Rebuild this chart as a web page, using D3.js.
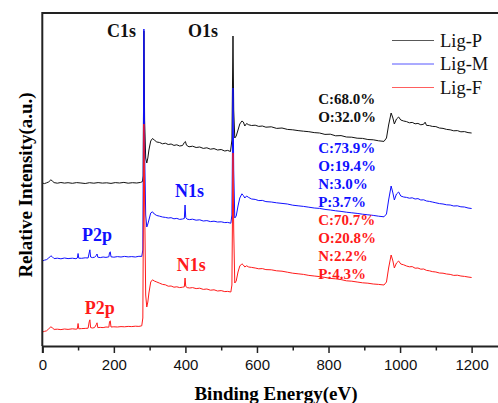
<!DOCTYPE html>
<html>
<head>
<meta charset="utf-8">
<script src="https://cdn.jsdelivr.net/npm/d3@7"></script>
<style>
  html, body { margin: 0; padding: 0; background: #fff; overflow: hidden; }
  svg { display: block; }
</style>
</head>
<body>
<div id="chart"></div>
<script>
// XPS survey spectra, [binding energy (eV), intensity (a.u.)]
const ligP = [[0,1630],[6,1624],[12,1632],[18,1641],[24,1662],[28,1650],[33,1634],[42,1628],[52,1635],[62,1629],[72,1633],[84,1627],[96,1634],[108,1630],[120,1625],[132,1633],[144,1628],[156,1634],[168,1629],[180,1632],[192,1626],[204,1634],[216,1630],[228,1636],[240,1628],[252,1633],[264,1630],[275,1636],[280,1645],[282,1700],[284,3150],[286,2260],[289,1880],[292,1830],[295,1880],[298,1960],[303,2050],[308,2075],[313,2060],[320,2040],[328,2035],[336,2022],[344,2028],[352,2015],[360,2020],[368,2006],[376,2012],[384,2000],[392,2005],[397,2035],[400,2045],[403,2008],[410,1992],[420,1998],[430,1985],[440,1990],[450,1976],[460,1982],[470,1968],[480,1974],[490,1960],[500,1965],[510,1950],[518,1956],[526,1945],[530,2060],[533,3100],[535,2360],[538,2080],[542,2100],[547,2160],[552,2220],[558,2250],[562,2240],[566,2200],[571,2225],[577,2212],[585,2205],[595,2208],[605,2196],[615,2200],[625,2188],[640,2192],[655,2176],[670,2180],[685,2166],[700,2162],[715,2154],[730,2148],[745,2143],[760,2134],[775,2130],[790,2116],[805,2118],[820,2102],[835,2104],[850,2090],[865,2088],[880,2078],[895,2076],[910,2065],[925,2062],[940,2052],[955,2046],[962,2080],[968,2210],[975,2330],[980,2280],[984,2220],[990,2270],[996,2290],[1002,2260],[1010,2250],[1018,2244],[1026,2232],[1034,2236],[1042,2222],[1050,2226],[1058,2212],[1066,2218],[1070,2238],[1074,2206],[1082,2204],[1090,2196],[1100,2194],[1110,2180],[1120,2176],[1130,2166],[1140,2162],[1150,2152],[1160,2154],[1170,2142],[1180,2144],[1190,2134],[1200,2130]];

const ligM = [[0,850],[6,858],[12,864],[18,880],[24,902],[28,892],[33,874],[42,878],[52,872],[62,880],[72,874],[84,878],[94,873],[98,880],[100,925],[102,878],[110,877],[120,882],[128,880],[131,930],[133,962],[135,890],[140,884],[146,888],[151,905],[153,920],[155,888],[162,884],[170,890],[178,886],[186,892],[188,935],[190,942],[192,892],[200,888],[210,894],[220,890],[230,896],[240,891],[250,894],[260,890],[270,897],[278,896],[281,960],[284,3170],[286,1960],[289,1310],[292,1190],[295,1220],[298,1260],[303,1330],[308,1342],[313,1320],[320,1305],[328,1298],[336,1290],[344,1286],[352,1280],[360,1283],[368,1272],[376,1276],[384,1266],[392,1270],[397,1275],[399,1410],[401,1285],[405,1268],[412,1264],[420,1268],[430,1258],[440,1262],[450,1250],[460,1254],[470,1244],[480,1248],[490,1240],[500,1242],[510,1234],[518,1236],[527,1228],[530,1310],[533,2580],[535,1760],[538,1280],[542,1300],[547,1400],[552,1480],[558,1522],[562,1505],[566,1480],[571,1500],[577,1485],[585,1470],[595,1466],[605,1454],[615,1456],[625,1444],[640,1440],[655,1432],[670,1426],[685,1420],[700,1408],[715,1402],[730,1396],[745,1388],[760,1380],[775,1376],[790,1366],[805,1360],[820,1352],[835,1346],[850,1338],[865,1332],[880,1326],[895,1318],[910,1312],[925,1306],[940,1298],[955,1292],[962,1320],[968,1460],[975,1600],[980,1530],[984,1460],[990,1520],[996,1540],[1002,1500],[1010,1490],[1018,1486],[1026,1478],[1034,1482],[1042,1470],[1050,1474],[1058,1460],[1066,1462],[1074,1450],[1082,1446],[1090,1440],[1100,1432],[1110,1424],[1120,1420],[1130,1412],[1140,1410],[1150,1400],[1160,1402],[1170,1392],[1180,1390],[1190,1380],[1200,1375]];

const ligF = [[0,140],[6,146],[12,152],[18,172],[24,192],[28,182],[33,166],[42,168],[52,164],[62,170],[72,166],[84,172],[94,168],[98,172],[100,225],[102,172],[110,174],[120,176],[128,178],[131,240],[133,262],[135,184],[140,180],[146,184],[151,215],[153,232],[155,184],[162,186],[170,184],[178,190],[186,188],[188,245],[190,252],[192,190],[200,192],[210,190],[220,194],[230,192],[240,196],[250,194],[260,198],[270,196],[278,202],[281,280],[284,2220],[286,1460],[289,510],[292,390],[295,440],[298,530],[303,640],[308,662],[313,650],[320,640],[328,628],[336,616],[344,612],[352,598],[360,600],[368,588],[376,592],[384,584],[392,588],[397,592],[399,680],[401,596],[405,584],[412,580],[420,584],[430,574],[440,578],[450,566],[460,570],[470,558],[480,562],[490,550],[500,554],[510,544],[518,546],[527,540],[530,610],[533,1930],[535,1160],[538,630],[542,650],[547,740],[552,800],[558,822],[562,810],[566,790],[571,802],[577,790],[585,786],[595,780],[605,772],[615,774],[625,764],[640,762],[655,752],[670,748],[685,738],[700,728],[715,722],[730,716],[745,706],[760,700],[775,694],[790,686],[805,676],[820,672],[835,664],[850,652],[865,648],[880,640],[895,632],[910,628],[925,620],[940,616],[955,610],[962,640],[968,780],[975,910],[980,850],[984,780],[990,830],[996,850],[1002,820],[1010,812],[1018,800],[1026,792],[1034,794],[1042,778],[1050,780],[1058,768],[1066,770],[1074,756],[1082,752],[1090,744],[1100,740],[1110,730],[1120,728],[1130,720],[1140,716],[1150,706],[1160,708],[1170,700],[1180,696],[1190,690],[1200,685]];

const seriesNames = ["Lig-P", "Lig-M", "Lig-F"];
const xMajorTicks = [0, 200, 400, 600, 800, 1000, 1200];
const xMinorTicks = [100, 300, 500, 700, 900, 1100, 1300];

const compP = ["C:68.0%", "O:32.0%"];
const compM = ["C:73.9%", "O:19.4%", "N:3.0%", "P:3.7%"];
const compF = ["C:70.7%", "O:20.8%", "N:2.2%", "P:4.3%"];

const width = 498, height = 403;
const colors = ["#111111", "#1010ff", "#ff1a1a"];
const serif = "'Liberation Serif', 'Times New Roman', serif";

const x = d3.scaleLinear().domain([0, 1300]).range([42.3, 507.4]);
const y = d3.scaleLinear().domain([0, 3330]).range([346, 13]);

const svg = d3.select("#chart").append("svg")
    .attr("width", width)
    .attr("height", height);

// spectra, drawn black first so red sits on top
const line = d3.line()
    .x(d => x(d[0]))
    .y(d => y(d[1]));

svg.append("g")
    .attr("fill", "none")
    .attr("stroke-width", 1)
    .attr("stroke-linejoin", "round")
    .selectAll("path")
    .data([ligP, ligM, ligF])
    .join("path")
    .attr("stroke", (d, i) => colors[i])
    .attr("d", line);

// frame (right side runs past the window)
svg.append("path")
    .attr("d", `M${x(0)},${y(0)} V${y(3330)} H${x(1300) + 2}`)
    .attr("fill", "none")
    .attr("stroke", "#222")
    .attr("stroke-width", 2);

// x axis, major + minor ticks
const axisG = svg.append("g")
    .attr("transform", `translate(0,${y(0)})`);

axisG.call(d3.axisBottom(x).tickValues(xMajorTicks).tickSize(7).tickPadding(6).tickFormat(d3.format("d")))
    .call(g => g.select(".domain").attr("stroke", "#222").attr("stroke-width", 2))
    .call(g => g.selectAll(".tick line").attr("stroke", "#222").attr("stroke-width", 1.5))
    .call(g => g.selectAll(".tick text")
        .attr("fill", "#111")
        .style("font", "15px 'Liberation Sans', Arial, sans-serif"));

axisG.append("g")
    .call(d3.axisBottom(x).tickValues(xMinorTicks).tickSize(4.5).tickFormat(""))
    .call(g => g.select(".domain").remove())
    .call(g => g.selectAll(".tick line").attr("stroke", "#222").attr("stroke-width", 1.5));

// axis titles
svg.append("text")
    .attr("x", 276)
    .attr("y", 400)
    .attr("text-anchor", "middle")
    .style("font", `bold 19px ${serif}`)
    .text("Binding Energy(eV)");

svg.append("text")
    .attr("transform", "translate(32,185) rotate(-90)")
    .attr("text-anchor", "middle")
    .style("font", `bold 19px ${serif}`)
    .text("Relative Intensity(a.u.)");

// peak labels, placed in data coordinates
const peakLabels = [
    { text: "C1s", e: 181, v: 3090, c: 0 },
    { text: "O1s", e: 407, v: 3090, c: 0 },
    { text: "N1s", e: 371, v: 1490, c: 1 },
    { text: "N1s", e: 376, v: 750, c: 2 },
    { text: "P2p", e: 111, v: 1050, c: 1 },
    { text: "P2p", e: 119, v: 320, c: 2 }
];

svg.append("g")
    .selectAll("text")
    .data(peakLabels)
    .join("text")
    .attr("x", d => x(d.e))
    .attr("y", d => y(d.v))
    .attr("fill", d => colors[d.c])
    .style("font", `bold 18px ${serif}`)
    .text(d => d.text);

// composition blocks
const compBlocks = [
    { lines: compP, top: 2420, c: 0 },
    { lines: compM, top: 1930, c: 1 },
    { lines: compF, top: 1210, c: 2 }
];

compBlocks.forEach(b => {
    svg.append("g")
        .selectAll("text")
        .data(b.lines)
        .join("text")
        .attr("x", x(771))
        .attr("y", (d, i) => y(b.top) + i * 18)
        .attr("fill", colors[b.c])
        .style("font", `bold 15px ${serif}`)
        .text(d => d);
});

// legend
const legend = svg.append("g")
    .selectAll("g")
    .data(seriesNames)
    .join("g")
    .attr("transform", (d, i) => `translate(392,${40.5 + i * 23.5})`);

legend.append("line")
    .attr("x2", 42)
    .attr("stroke", (d, i) => colors[i])
    .attr("stroke-opacity", 0.7)
    .attr("stroke-width", 1);

legend.append("text")
    .attr("x", 48)
    .attr("y", 6)
    .attr("fill", "#111")
    .style("font", `18.5px ${serif}`)
    .text(d => d);
</script>
</body>
</html>
